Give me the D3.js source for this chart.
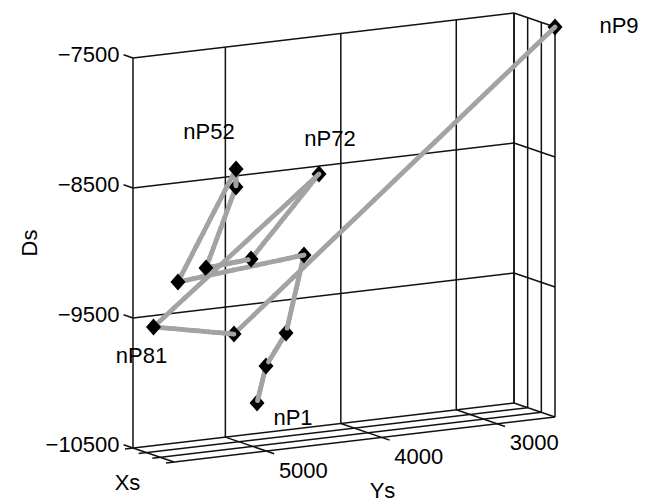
<!DOCTYPE html>
<html>
<head>
<meta charset="utf-8">
<script src="https://cdn.jsdelivr.net/npm/d3@7"></script>
<style>
  body { margin: 0; background: #fff; }
  text { font-family: "Liberation Sans", Arial, sans-serif; font-size: 22px; fill: #000; }
</style>
</head>
<body>
<svg id="chart" width="654" height="504"></svg>
<script>
// path points, in the order they are joined
const pointLabels = ["nP1", "", "", "", "", "nP52", "", "", "", "nP72", "nP81", "", "nP9"]
const xs = [1200, 1350, 1650, 1800, 1050, 1500, 1350, 1200, 1650, 1950, 1500, 1350, 3000]
const ys = [4868, 4808, 4670, 4532, 5535, 5085, 5068, 5310, 4973, 4420, 5800, 5085, 2500]
const zs = [-10208, -9925, -9675, -9084, -9213, -8375, -8521, -9124, -9074, -8467, -9515, -9650, -7500]

// axes
const xTicks = [0, 1000, 2000, 3000]
const yTicks = [5000, 4000, 3000]
const zTicks = [-10500, -9500, -8500, -7500]

const svg = d3.select("#chart")

// each axis goes to a 0..1 fraction of the box
const fx = d3.scaleLinear().domain([0, 3000]).range([0, 1])
const fy = d3.scaleLinear().domain([5800, 2500]).range([0, 1])
const fz = d3.scaleLinear().domain([-10500, -7500]).range([0, 1])

// projected box: corner at back-left-bottom and the screen vector of each axis
const origin = [133, 448]
const ex = [41, 14], ey = [381, -45], ez = [0, -390]
const P = (a, b, c) => [origin[0] + a * ex[0] + b * ey[0] + c * ez[0],
                        origin[1] + a * ex[1] + b * ey[1] + c * ez[1]]
// distance toward the viewer, used to paint far things first
const depth = (a, b, c) => 68.3 * a - 219.5 * b + 79.9 * c

const grid = svg.append("g").attr("stroke", "#111").attr("stroke-width", 1.5).attr("fill", "none")
const seg = (p, q) => grid.append("line").attr("x1", p[0]).attr("y1", p[1]).attr("x2", q[0]).attr("y2", q[1])

// back wall
seg(P(0, 0, 0), P(0, 0, 1))
seg(P(0, 0, 1), P(0, 1, 1))
seg(P(0, 1, 0), P(0, 1, 1))
zTicks.slice(1, -1).forEach(z => seg(P(0, 0, fz(z)), P(0, 1, fz(z))))
yTicks.forEach(y => seg(P(0, fy(y), 0), P(0, fy(y), 1)))
// side wall
seg(P(0, 1, 1), P(1, 1, 1))
xTicks.forEach(x => seg(P(fx(x), 1, 0), P(fx(x), 1, 1)))
zTicks.slice(1, -1).forEach(z => seg(P(0, 1, fz(z)), P(1, 1, fz(z))))
// floor
xTicks.forEach(x => seg(P(fx(x), -0.021, 0), P(fx(x), 1, 0)))
seg(P(0, 0, 0), P(1, 0, 0))
seg(P(0, 1, 0), P(1, 1, 0))
yTicks.forEach(y => seg(P(0, fy(y), 0), P(1.19, fy(y), 0)))
// z ticks
zTicks.forEach(z => seg(P(0, 0, fz(z)), P(-0.23, 0, fz(z))))

// tick labels
const fmt = d3.format("d")
zTicks.forEach(z => {
  const p = P(-0.23, 0, fz(z))
  svg.append("text").attr("x", p[0] - 4).attr("y", p[1]).attr("text-anchor", "end")
    .attr("dominant-baseline", "central").text(fmt(z))
})
yTicks.forEach(y => {
  const p = P(1, fy(y), 0)
  svg.append("text").attr("x", p[0] + 37).attr("y", p[1] + 19).attr("text-anchor", "middle")
    .attr("dominant-baseline", "central").text(fmt(y))
})
{
  const px = P(0.5, 0, 0), py = P(1, 0.5, 0)
  svg.append("text").attr("x", px[0] - 26).attr("y", px[1] + 27).attr("text-anchor", "middle")
    .attr("dominant-baseline", "central").text("Xs")
  svg.append("text").attr("x", py[0] + 18).attr("y", py[1] + 51).attr("text-anchor", "middle")
    .attr("dominant-baseline", "central").text("Ys")
  svg.append("text").attr("transform", "translate(29,243) rotate(-90)").attr("text-anchor", "middle")
    .attr("dominant-baseline", "central").text("Ds")
}

// data: split the path into short pieces and sort them with the markers by depth
const pts = xs.map((x, i) => ({ a: fx(x), b: fy(ys[i]), c: fz(zs[i]), label: pointLabels[i] }))
const items = []
const N = 16
for (let i = 0; i < pts.length - 1; i++) {
  const p = pts[i], q = pts[i + 1]
  for (let k = 0; k < N; k++) {
    const t0 = k / N, t1 = (k + 1) / N
    const A = [p.a + (q.a - p.a) * t0, p.b + (q.b - p.b) * t0, p.c + (q.c - p.c) * t0]
    const B = [p.a + (q.a - p.a) * t1, p.b + (q.b - p.b) * t1, p.c + (q.c - p.c) * t1]
    items.push({ kind: "line", d: depth((A[0] + B[0]) / 2, (A[1] + B[1]) / 2, (A[2] + B[2]) / 2), A: P(...A), B: P(...B) })
  }
}
pts.forEach(p => items.push({ kind: "mark", d: depth(p.a, p.b, p.c) + 0.5, at: P(p.a, p.b, p.c) }))
items.sort((u, v) => u.d - v.d)

const dataG = svg.append("g")
items.forEach(it => {
  if (it.kind === "line") {
    dataG.append("line").attr("x1", it.A[0]).attr("y1", it.A[1]).attr("x2", it.B[0]).attr("y2", it.B[1])
      .attr("stroke", "#a3a3a3").attr("stroke-width", 4.8).attr("stroke-linecap", "round")
  } else {
    dataG.append("path").attr("d", "M0,-8.5L7.5,0L0,8.5L-7.5,0Z")
      .attr("transform", `translate(${it.at[0]},${it.at[1]})`).attr("fill", "#000")
  }
})

// point names
const labelOffsets = { nP1: [36, 15], nP52: [-27, -38], nP72: [11, -35], nP81: [-12, 29], nP9: [64, -2] }
pts.filter(p => p.label).forEach(p => {
  const at = P(p.a, p.b, p.c), o = labelOffsets[p.label]
  svg.append("text").attr("x", at[0] + o[0]).attr("y", at[1] + o[1]).attr("text-anchor", "middle")
    .attr("dominant-baseline", "central").text(p.label)
})
</script>
</body>
</html>
